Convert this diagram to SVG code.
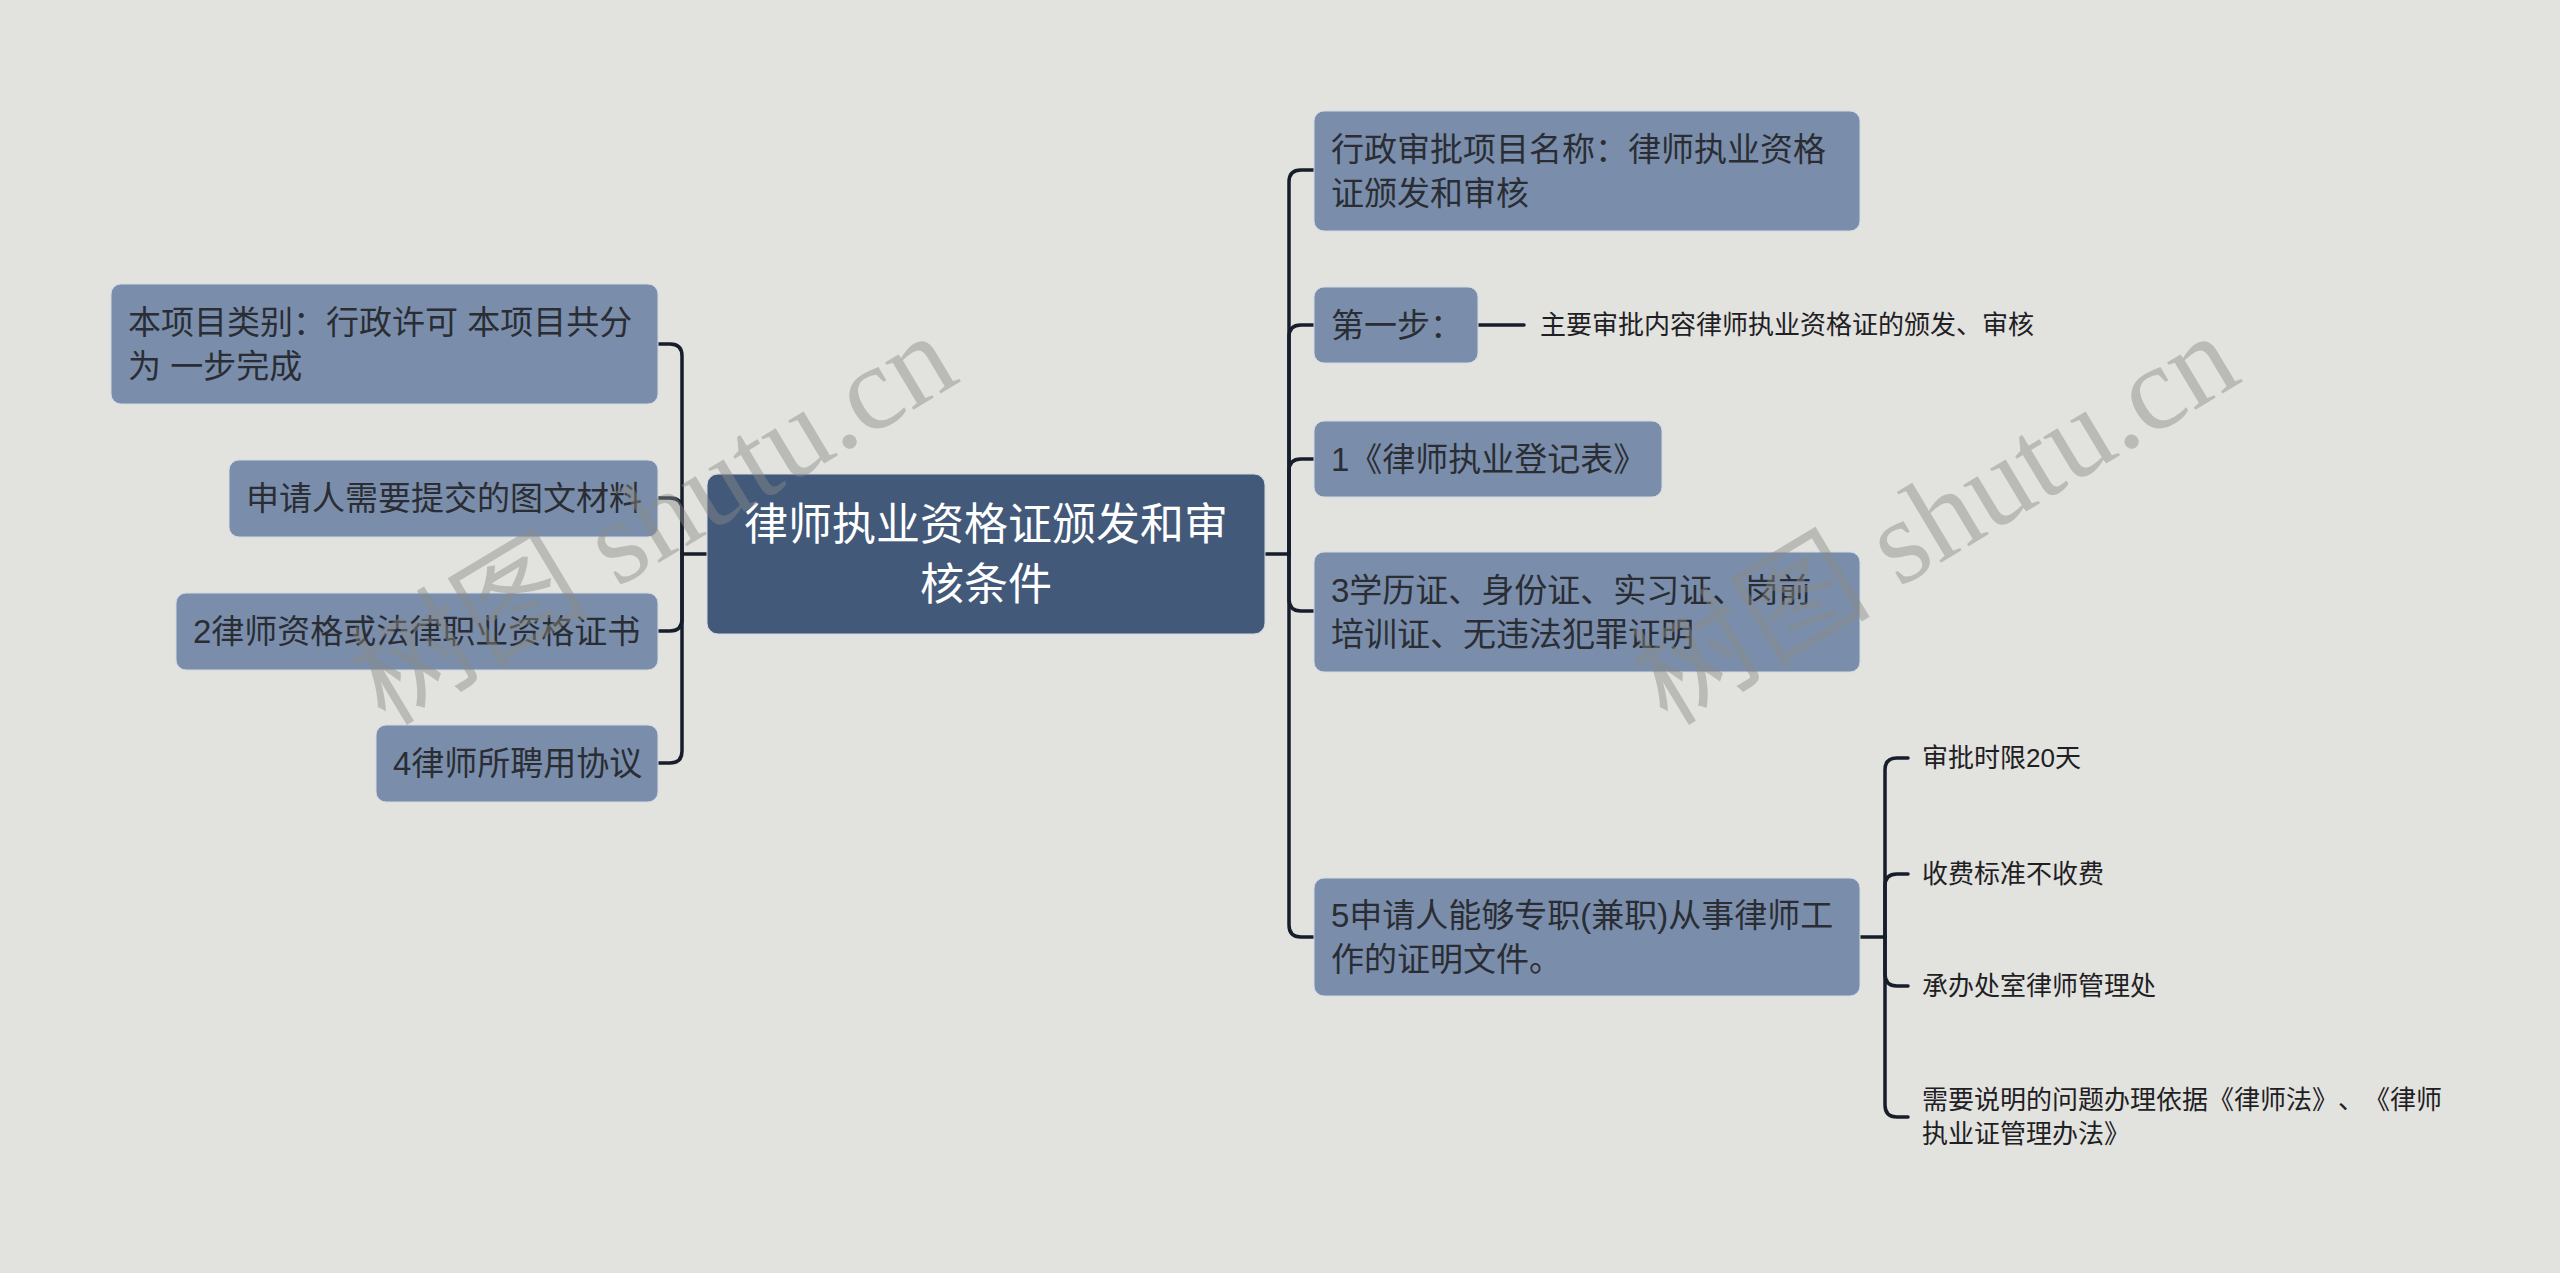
<svg xmlns="http://www.w3.org/2000/svg" width="2560" height="1273" viewBox="0 0 2560 1273">
<style>
.bg{fill:#e2e2de}
.node{fill:#7a8eab;stroke:#d4dae3;stroke-width:1}
.root{fill:#42597a;stroke:#d4dae3;stroke-width:1}
text{text-spacing-trim:space-all}
.t{font-family:"Liberation Sans","Noto Sans CJK SC",sans-serif;font-size:33px;fill:#2a2d33;dominant-baseline:central}
.rt{font-family:"Liberation Sans","Noto Sans CJK SC",sans-serif;font-size:44px;fill:#ffffff;dominant-baseline:central;text-anchor:middle}
.s{font-family:"Liberation Sans","Noto Sans CJK SC",sans-serif;font-size:26px;fill:#1e2024;dominant-baseline:central}
.c{fill:none;stroke:#161d2b;stroke-width:3.5;stroke-linecap:round;stroke-linejoin:round}
.wm{font-family:"Liberation Serif","Noto Sans CJK SC",serif;font-size:120px;fill:#8a8a88;opacity:0.45;text-anchor:middle;dominant-baseline:central}
</style>
<rect class="bg" x="0" y="0" width="2560" height="1273"/>

<g id="connectors">
<path class="c" d="M658,344 H670 Q682,344 682,356 V554"/>
<path class="c" d="M658,498 H670 Q682,498 682,510 V554"/>
<path class="c" d="M658,631 H670 Q682,631 682,619 V554"/>
<path class="c" d="M658,763 H670 Q682,763 682,751 V554"/>
<path class="c" d="M682,554 H707"/>
<path class="c" d="M1265,554 H1289"/>
<path class="c" d="M1314,170 H1301 Q1289,170 1289,182 V554"/>
<path class="c" d="M1314,325 H1301 Q1289,325 1289,337 V554"/>
<path class="c" d="M1314,459 H1301 Q1289,459 1289,471 V554"/>
<path class="c" d="M1314,611 H1301 Q1289,611 1289,599 V554"/>
<path class="c" d="M1314,937 H1301 Q1289,937 1289,925 V554"/>
<path class="c" d="M1478,325 H1524"/>
<path class="c" d="M1860,937 H1885"/>
<path class="c" d="M1908,758 H1897 Q1885,758 1885,770 V937"/>
<path class="c" d="M1908,874 H1897 Q1885,874 1885,886 V937"/>
<path class="c" d="M1908,986 H1897 Q1885,986 1885,974 V937"/>
<path class="c" d="M1908,1117 H1897 Q1885,1117 1885,1105 V937"/>
</g>

<g id="root">
<rect class="root" x="707" y="474" width="558" height="160" rx="11"/>
<text class="rt" x="986" y="524">律师执业资格证颁发和审</text>
<text class="rt" x="986" y="584">核条件</text>
</g>

<g id="left1">
<rect class="node" x="111" y="284" width="547" height="120" rx="10"/>
<text class="t" x="128" y="322">本项目类别：行政许可 本项目共分</text>
<text class="t" x="128" y="366">为 一步完成</text>
</g>
<g id="left2">
<rect class="node" x="229" y="460" width="429" height="77" rx="10"/>
<text class="t" x="246" y="498.5">申请人需要提交的图文材料</text>
</g>
<g id="left3">
<rect class="node" x="176" y="593" width="482" height="77" rx="10"/>
<text class="t" x="193" y="631">2律师资格或法律职业资格证书</text>
</g>
<g id="left4">
<rect class="node" x="376" y="725" width="282" height="77" rx="10"/>
<text class="t" x="393" y="763">4律师所聘用协议</text>
</g>

<g id="right1">
<rect class="node" x="1314" y="111" width="546" height="120" rx="10"/>
<text class="t" x="1331" y="149">行政审批项目名称：律师执业资格</text>
<text class="t" x="1331" y="193">证颁发和审核</text>
</g>
<g id="right2">
<rect class="node" x="1314" y="287" width="164" height="76" rx="10"/>
<text class="t" x="1331" y="325">第一步：</text>
</g>
<g id="right2a">
<text class="s" x="1540" y="325">主要审批内容律师执业资格证的颁发、审核</text>
</g>
<g id="right3">
<rect class="node" x="1314" y="421" width="348" height="76" rx="10"/>
<text class="t" x="1331" y="459">1《律师执业登记表》</text>
</g>
<g id="right4">
<rect class="node" x="1314" y="552" width="546" height="120" rx="10"/>
<text class="t" x="1331" y="590">3学历证、身份证、实习证、岗前</text>
<text class="t" x="1331" y="634">培训证、无违法犯罪证明</text>
</g>
<g id="right5">
<rect class="node" x="1314" y="878" width="546" height="118" rx="10"/>
<text class="t" x="1331" y="915">5申请人能够专职(兼职)从事律师工</text>
<text class="t" x="1331" y="959">作的证明文件。</text>
</g>
<g id="sub1"><text class="s" x="1922" y="758">审批时限20天</text></g>
<g id="sub2"><text class="s" x="1922" y="874">收费标准不收费</text></g>
<g id="sub3"><text class="s" x="1922" y="986">承办处室律师管理处</text></g>
<g id="sub4">
<text class="s" x="1922" y="1100">需要说明的问题办理依据《律师法》、《律师</text>
<text class="s" x="1922" y="1134">执业证管理办法》</text>
</g>

<g id="watermarks">
<text class="wm" transform="translate(653,519) rotate(-31)">树图 shutu.cn</text>
<text class="wm" transform="translate(1935,519) rotate(-31)">树图 shutu.cn</text>
</g>
</svg>
